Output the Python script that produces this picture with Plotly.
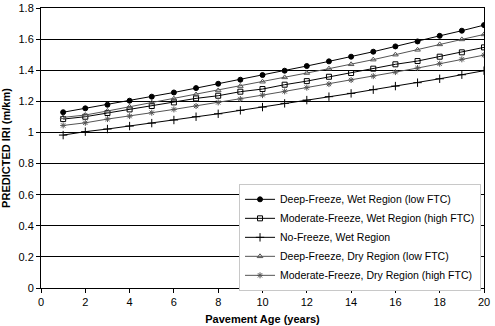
import plotly.graph_objects as go

# Pavement age (years)
years = list(range(1, 21))

# Predicted IRI (m/km) for each climate region
deep_wet = [1.130, 1.155, 1.178, 1.204, 1.230, 1.257, 1.285, 1.313, 1.339, 1.369,
            1.397, 1.427, 1.457, 1.487, 1.519, 1.553, 1.585, 1.621, 1.654, 1.690]
moderate_wet = [1.086, 1.101, 1.125, 1.148, 1.170, 1.193, 1.219, 1.236, 1.262, 1.279,
                1.307, 1.330, 1.358, 1.382, 1.410, 1.438, 1.459, 1.487, 1.515, 1.547]
no_freeze_wet = [0.983, 1.005, 1.022, 1.041, 1.060, 1.080, 1.101, 1.120, 1.142, 1.163,
                 1.187, 1.208, 1.230, 1.251, 1.275, 1.298, 1.320, 1.345, 1.371, 1.397]
deep_dry = [1.097, 1.112, 1.138, 1.165, 1.191, 1.217, 1.244, 1.270, 1.298, 1.326,
            1.354, 1.382, 1.410, 1.438, 1.468, 1.500, 1.531, 1.566, 1.598, 1.630]
moderate_dry = [1.045, 1.062, 1.086, 1.105, 1.127, 1.148, 1.170, 1.193, 1.215, 1.240,
                1.264, 1.288, 1.311, 1.337, 1.362, 1.388, 1.414, 1.442, 1.470, 1.497]

series_names = [
    "Deep-Freeze, Wet Region (low FTC)",
    "Moderate-Freeze, Wet Region (high FTC)",
    "No-Freeze, Wet Region",
    "Deep-Freeze, Dry Region (low FTC)",
    "Moderate-Freeze, Dry Region (high FTC)",
]
series_values = [deep_wet, moderate_wet, no_freeze_wet, deep_dry, moderate_dry]
styles = [
    dict(color="#000000", symbol="circle", size=5),
    dict(color="#000000", symbol="square-open", size=5),
    dict(color="#000000", symbol="cross-thin-open", size=6),
    dict(color="#555555", symbol="triangle-up-open", size=5),
    dict(color="#555555", symbol="asterisk-open", size=5),
]

x_ticks = list(range(0, 21, 2))
y_ticks = [0, 0.2, 0.4, 0.6, 0.8, 1, 1.2, 1.4, 1.6, 1.8]

fig = go.Figure()
for name, vals, st in zip(series_names, series_values, styles):
    fig.add_trace(go.Scatter(
        x=years, y=vals, name=name, mode="lines+markers",
        line=dict(color=st["color"], width=1),
        marker=dict(symbol=st["symbol"], size=st["size"], color=st["color"],
                    line=dict(color=st["color"], width=1)),
    ))

axis_font = dict(family="Liberation Sans, Arial, sans-serif", size=11, color="#000000")

fig.update_layout(
    width=495, height=326,
    margin=dict(l=41, r=11, t=8, b=38),
    paper_bgcolor="white", plot_bgcolor="white",
    font=axis_font,
    showlegend=True,
    legend=dict(
        x=0.447, y=0.372, xanchor="left", yanchor="top",
        bgcolor="white", bordercolor="#c8c8c8", borderwidth=1,
        font=dict(family="Liberation Sans, Arial, sans-serif", size=10.5, color="#000000"),
        itemwidth=30, tracegroupgap=0,
    ),
    xaxis=dict(
        range=[0, 20], tickvals=x_ticks, ticktext=[str(v) for v in x_ticks],
        showgrid=False, zeroline=False,
        showline=True, linecolor="#000000", linewidth=1, mirror=True,
        ticks="outside", ticklen=4, tickcolor="#000000",
        title=dict(text="<b>Pavement Age (years)</b>", standoff=8,
                   font=dict(size=11)),
        automargin=False,
    ),
    yaxis=dict(
        range=[0, 1.8], tickvals=y_ticks, ticktext=[f"{v:g}" for v in y_ticks],
        showgrid=True, gridcolor="#000000", gridwidth=1, zeroline=False,
        showline=True, linecolor="#000000", linewidth=1, mirror=True,
        ticks="outside", ticklen=4, tickcolor="#000000",
        title=dict(text="<b>PREDICTED IRI (m/km)</b>", standoff=6,
                   font=dict(size=11)),
        automargin=False,
    ),
)

fig.write_html("out.html")
